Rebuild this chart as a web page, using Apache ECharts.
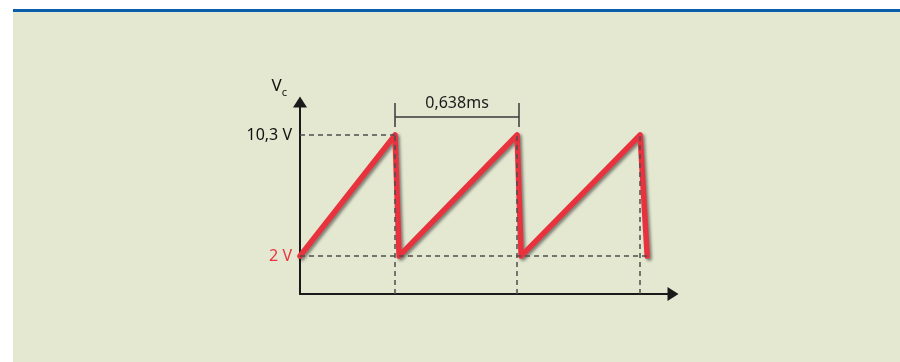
<!DOCTYPE html>
<html>
<head>
<meta charset="utf-8">
<script src="https://cdn.jsdelivr.net/npm/echarts@6/dist/echarts.min.js"></script>
<style>
    html, body { margin: 0; padding: 0; background: #fff; }
    .panel {
        position: absolute;
        left: 13px; top: 9px; right: 0; bottom: 0;
        background: #e4e8d1;
        border-top: 3px solid #0b5ea9;
    }
    #chart { position: absolute; left: 0; top: 0; width: 900px; height: 362px; }
</style>
</head>
<body>
<div class="panel"></div>
<div id="chart"></div>
<script>
    // sawtooth, time in ms, voltage in V
    const times = [0, 0.497, 0.518, 1.135, 1.156, 1.778, 1.815];
    const volts = [2, 10.3, 2, 10.3, 2, 10.3, 2];
    const peakTimes = [0.497, 1.135, 1.778];
    const vLow = 2, vHigh = 10.3;
    const levelLabels = ['10,3 V', '2 V'];
    // period bracket
    const periodLabel = '0,638ms';
    const bracketTimes = [0.497, 1.145];
    const bracketLevel = 11.535;
    const bracketTick = [10.85, 12.5];
    // axis ranges
    const tRange = [0, 1.95];
    const vRange = [-0.6, 12.56];

    const red = '#e8333f';
    const dash = { color: '#4d4d4d', width: 1.5, type: [5, 4] };
    const solid = { color: '#3a3a3a', width: 1.5, type: 'solid' };

    const guides = [
        [{ coord: [tRange[0], vHigh], label: { show: true, position: 'start', formatter: levelLabels[0], color: '#111' } },
         { coord: [peakTimes[0], vHigh] }],
        [{ coord: [tRange[0], vLow], label: { show: true, position: 'start', formatter: levelLabels[1], color: red } },
         { coord: [times[times.length - 1], vLow] }]
    ];
    peakTimes.forEach(t => {
        guides.push([{ coord: [t, vRange[0]] }, { coord: [t, vHigh] }]);
    });

    const bracket = [
        [{ coord: [bracketTimes[0], bracketLevel], label: { show: true, position: 'middle', formatter: periodLabel, color: '#1a1a1a', distance: 6 } },
         { coord: [bracketTimes[1], bracketLevel] }],
        [{ coord: [bracketTimes[0], bracketTick[0]] }, { coord: [bracketTimes[0], bracketTick[1]] }],
        [{ coord: [bracketTimes[1], bracketTick[0]] }, { coord: [bracketTimes[1], bracketTick[1]] }]
    ];

    const myChart = echarts.init(document.getElementById('chart'));
    let option = {
        animation: false,
        textStyle: { fontFamily: 'Noto Sans' },
        grid: { left: 300, top: 102, width: 373, height: 192 },
        xAxis: {
            type: 'value',
            min: tRange[0], max: tRange[1],
            axisLine: { show: true, onZero: false, symbol: ['none', 'triangle'], symbolSize: [14, 11],
                        lineStyle: { color: '#1a1a1a', width: 2 } },
            axisTick: { show: false },
            axisLabel: { show: false },
            splitLine: { show: false }
        },
        yAxis: {
            type: 'value',
            min: vRange[0], max: vRange[1],
            name: 'V{c|c}',
            nameLocation: 'end',
            nameGap: 4,
            nameTextStyle: {
                align: 'right', padding: [0, 13, 0, 0],
                fontSize: 17, lineHeight: 24, color: '#111', fontFamily: 'Noto Sans',
                rich: { c: { fontSize: 11, lineHeight: 10, verticalAlign: 'bottom', color: '#111', fontFamily: 'Noto Sans' } }
            },
            axisLine: { show: true, onZero: false, symbol: ['none', 'triangle'], symbolSize: [14, 11],
                        lineStyle: { color: '#1a1a1a', width: 2 } },
            axisTick: { show: false },
            axisLabel: { show: false },
            splitLine: { show: false }
        },
        series: [
            {
                name: 'guides',
                type: 'line',
                data: [],
                z: 1,
                markLine: {
                    silent: true,
                    symbol: ['none', 'none'],
                    lineStyle: dash,
                    label: { show: false, fontSize: 16, distance: 8, fontFamily: 'Noto Sans' },
                    emphasis: { disabled: true },
                    data: guides
                }
            },
            {
                name: 'bracket',
                type: 'line',
                data: [],
                z: 1,
                markLine: {
                    silent: true,
                    symbol: ['none', 'none'],
                    lineStyle: solid,
                    label: { show: false, fontSize: 16, fontFamily: 'Noto Sans' },
                    emphasis: { disabled: true },
                    data: bracket
                }
            },
            {
                name: 'Vc',
                type: 'line',
                z: 3,
                symbol: 'none',
                data: times.map((t, i) => [t, volts[i]]),
                lineStyle: {
                    color: red, width: 5.5, cap: 'round', join: 'round',
                    shadowColor: 'rgba(0,0,0,0.45)', shadowBlur: 3, shadowOffsetX: 2, shadowOffsetY: 2
                }
            }
        ]
    };
    myChart.setOption(option);
</script>
</body>
</html>
